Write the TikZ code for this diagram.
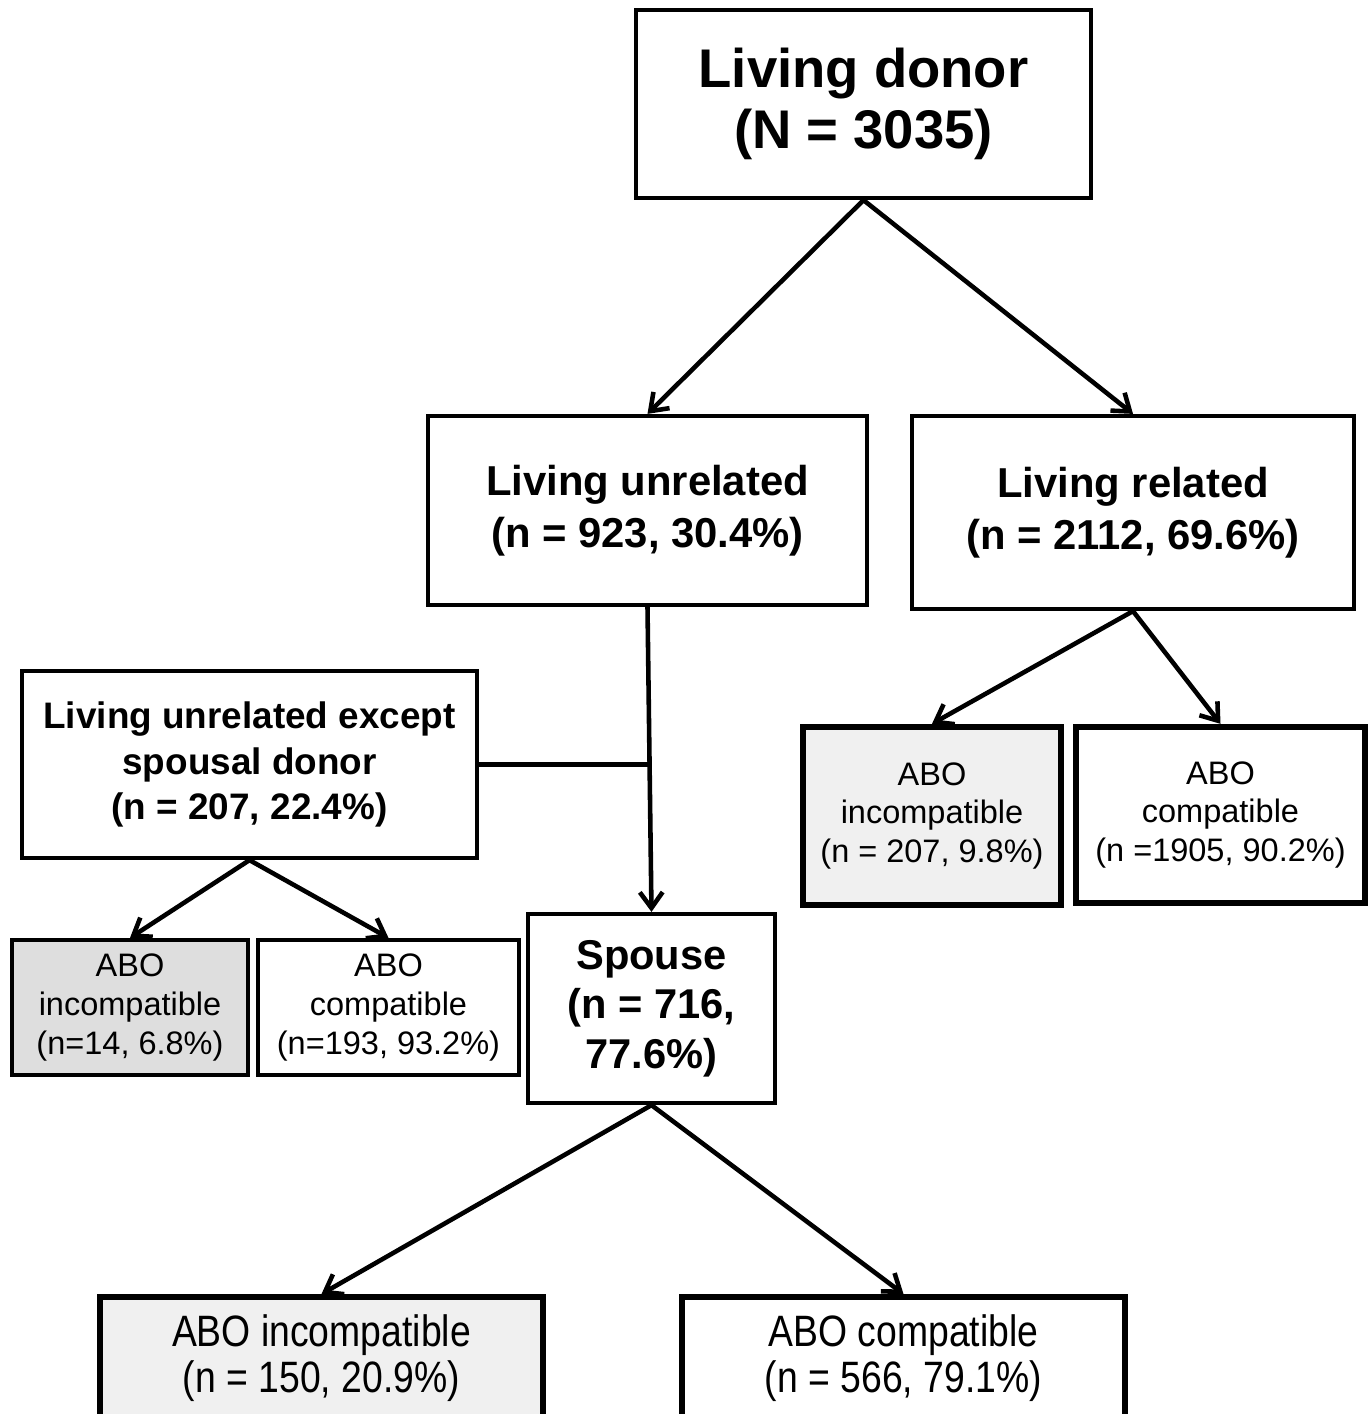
\documentclass[tikz,border=0pt]{standalone}
\usepackage{fontspec}
\setmainfont{Liberation Sans}
\newfontfamily\narrowsans[FakeStretch=0.85]{Liberation Sans}
\usetikzlibrary{arrows.meta}
\definecolor{lightshade}{RGB}{240,240,240}
\definecolor{midshade}{RGB}{222,222,222}

\begin{document}
\begin{tikzpicture}[
			x=0.02cm, y=-0.02cm,
			box/.style={draw, line width=2.4pt, align=center, inner sep=0pt, fill=white},
			head/.style={box, minimum width=455*0.02cm, minimum height=188*0.02cm,
				font=\bfseries\fontsize{31}{35}\selectfont},
			branch/.style={box, font=\bfseries\fontsize{23.8}{29.5}\selectfont},
			leaf/.style={box, minimum height=135*0.02cm, font=\fontsize{18.5}{22}\selectfont},
			heavyleaf/.style={box, line width=3.6pt, font=\fontsize{18.5}{22}\selectfont},
			wideleaf/.style={box, line width=3.4pt, minimum width=443*0.02cm, minimum height=122*0.02cm,
				font=\narrowsans\fontsize{25}{26.6}\selectfont},
			arrow/.style={-{Straight Barb[length=9pt, width=13pt]}, line width=2.6pt},
			link/.style={line width=2.6pt}
			]
			\useasboundingbox (0,0) rectangle (1372,1414);
			
			% Nodes
			\node[head] (donor) at (863.5,104) {Living donor\\(N = 3035)};
			\node[branch, minimum width=439*0.02cm, minimum height=189*0.02cm] (unrel) at (647.5,510.5)
				{Living unrelated\\(n = 923, 30.4\%)};
			\node[branch, minimum width=442*0.02cm, minimum height=193*0.02cm] (rel) at (1133,512.5)
				{Living related\\(n = 2112, 69.6\%)};
			\node[branch, minimum width=455*0.02cm, minimum height=187*0.02cm,
				font=\bfseries\fontsize{21}{26}\selectfont] (except) at (249.5,764.5)
				{Living unrelated except\\spousal donor\\(n = 207, 22.4\%)};
			\node[branch, minimum width=247*0.02cm, minimum height=189*0.02cm,
				font=\bfseries\fontsize{23.7}{28.3}\selectfont] (spouse) at (651.5,1008.5)
				{Spouse\\(n = 716,\\77.6\%)};
			
			\node[leaf, fill=midshade, minimum width=236*0.02cm] (exinc) at (130,1007.5)
				{ABO\\incompatible\\(n=14, 6.8\%)};
			\node[leaf, minimum width=261*0.02cm] (excom) at (388.5,1007.5)
				{ABO\\compatible\\(n=193, 93.2\%)};
			\node[heavyleaf, fill=lightshade, minimum width=258*0.02cm, minimum height=178*0.02cm] (relinc) at (932,816)
				{ABO\\incompatible\\(n = 207, 9.8\%)};
			\node[heavyleaf, minimum width=289*0.02cm, minimum height=176*0.02cm] (relcom) at (1220.5,815)
				{ABO\\compatible\\(n =1905, 90.2\%)};
			\node[wideleaf, fill=lightshade] (spinc) at (321.5,1358)
				{ABO incompatible\\(n = 150, 20.9\%)};
			\node[wideleaf] (spcom) at (903.5,1358)
				{ABO compatible\\(n = 566, 79.1\%)};
			
			% Arrows
			\draw[arrow] (donor.south) -- (unrel.north);
			\draw[arrow] (donor.south) -- (rel.north);
			\draw[arrow] (unrel.south) -- (spouse.north);
			\draw[link] (except.east) -- (except.east -| unrel.south);
			\draw[arrow] (rel.south) -- (relinc.north);
			\draw[arrow] (rel.south) -- (relcom.north);
			\draw[arrow] (except.south) -- (exinc.north);
			\draw[arrow] (except.south) -- (excom.north);
			\draw[arrow] (spouse.south) -- (spinc.north);
			\draw[arrow] (spouse.south) -- (spcom.north);
			
		\end{tikzpicture}
\end{document}
